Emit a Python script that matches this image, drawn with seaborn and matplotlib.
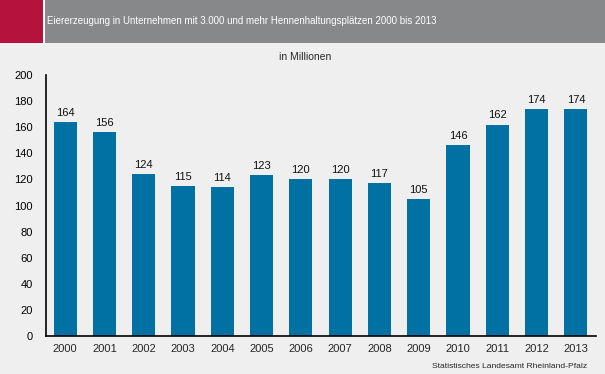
import matplotlib
matplotlib.use('Agg')
import matplotlib.pyplot as plt
from matplotlib.patches import Rectangle
from matplotlib.ticker import FixedLocator
import seaborn as sns
import pandas as pd

years = ['2000', '2001', '2002', '2003', '2004', '2005', '2006',
         '2007', '2008', '2009', '2010', '2011', '2012', '2013']
eggs = [164, 156, 124, 115, 114, 123, 120, 120, 117, 105, 146, 162, 174, 174]
y_ticks = [0, 20, 40, 60, 80, 100, 120, 140, 160, 180, 200]

title = 'Eiererzeugung in Unternehmen mit 3.000 und mehr Hennenhaltungsplätzen 2000 bis 2013'
unit = 'in Millionen'
source = 'Statistisches Landesamt Rheinland-Pfalz'

sns.set_style('white')
plt.rcParams['font.family'] = ['Liberation Sans', 'DejaVu Sans']

bg = '#eeefee'
W, H = 605, 374
fig = plt.figure(figsize=(W / 100, H / 100), dpi=100, facecolor=bg)

# header band: red block, thin white gap, grey bar
fig.patches.append(Rectangle((0, 1 - 43 / H), 1, 43 / H, transform=fig.transFigure,
                             facecolor='#87888a', edgecolor='none'))
fig.patches.append(Rectangle((0, 1 - 43 / H), 45 / W, 43 / H, transform=fig.transFigure,
                             facecolor='white', edgecolor='none'))
fig.patches.append(Rectangle((0, 1 - 43 / H), 43 / W, 43 / H, transform=fig.transFigure,
                             facecolor='#b5123d', edgecolor='none'))
fig.text(47 / W, 1 - 21 / H, title, color='white', fontsize=7.0, va='center', ha='left')

ax = fig.add_axes([45.5 / W, 38 / H, 550 / W, (336 - 75) / H])
ax.set_facecolor(bg)

df = pd.DataFrame({'year': years, 'eggs': eggs})
sns.barplot(data=df, x='year', y='eggs', color='#0071a2', width=0.59,
            saturation=1, linewidth=0, ax=ax)
for c in ax.containers:
    ax.bar_label(c, fmt='%d', padding=3, fontsize=8, color='#111111')

ax.set_ylim(0, 200)
ax.set_xlim(-0.5, len(years) - 0.5)
ax.set_yticks(y_ticks)
ax.set_xlabel('')
ax.set_ylabel('')
ax.tick_params(axis='y', length=4, width=1, direction='out', labelsize=8, pad=5, colors='black')
ax.tick_params(axis='x', which='major', length=0, labelsize=8, pad=6)
ax.xaxis.set_minor_locator(FixedLocator([i - 0.5 for i in range(len(years) + 1)]))
ax.tick_params(axis='x', which='minor', length=4, width=1, direction='out', color='black')
for s in ['top', 'right']:
    ax.spines[s].set_visible(False)
for s in ['left', 'bottom']:
    ax.spines[s].set_color('black')
    ax.spines[s].set_linewidth(1.2)

fig.text(305 / W, 1 - 57 / H, unit, fontsize=7.5, ha='center', va='center')
fig.text(587 / W, 1 - 367 / H, source, fontsize=6.1, ha='right', va='center')

fig.savefig('out.png', dpi=100, facecolor=bg)
